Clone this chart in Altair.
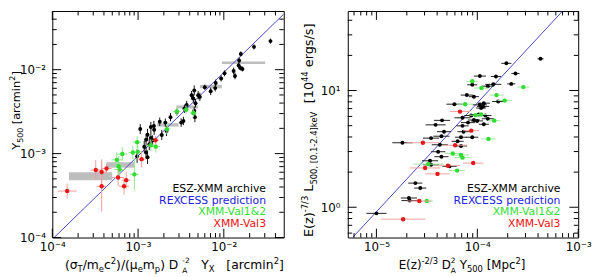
import altair as alt
import pandas as pd
import numpy as np

FONT = "DejaVu Sans"

# ---------------- Left panel data ----------------
LB_x = [0.0350, 0.0225, 0.0158, 0.0151, 0.0149, 0.0156, 0.0165, 0.0130, 0.0135, 0.0102,
        0.00931, 0.00804, 0.00794, 0.00703, 0.00600, 0.00502, 0.00452, 0.00441, 0.00468, 0.00421,
        0.00369, 0.00452, 0.00460, 0.00338, 0.00318, 0.00283, 0.00239, 0.00208, 0.00179, 0.00153,
        0.00106, 0.00141, 0.00154, 0.00129, 0.00141, 0.00124, 0.00148, 0.00135, 0.00118, 0.00124,
        0.00129, 0.000975, 0.00189, 0.00215, 0.00526, 0.00347]
LB_y = [0.0219, 0.0187, 0.0154, 0.0129, 0.0112, 0.0105, 0.0102, 0.00964, 0.00843, 0.00906,
        0.00785, 0.00695, 0.00603, 0.00552, 0.00618, 0.00497, 0.00566, 0.00454, 0.00398, 0.00497,
        0.00380, 0.00324, 0.00272, 0.00245, 0.00234, 0.00313, 0.00272, 0.00234, 0.00240, 0.00214,
        0.00196, 0.00208, 0.00192, 0.00168, 0.00154, 0.00146, 0.00144, 0.00129, 0.00121, 0.00103,
        0.000906, 0.000931, 0.00167, 0.00186, 0.00474, 0.00342]
LB_ey = [0.03, 0.03, 0.03, 0.035, 0.035, 0.03, 0.03, 0.04, 0.04, 0.035,
         0.035, 0.04, 0.04, 0.045, 0.03, 0.05, 0.06, 0.05, 0.05, 0.05,
         0.05, 0.05, 0.06, 0.05, 0.05, 0.04, 0.05, 0.05, 0.05, 0.06,
         0.06, 0.06, 0.06, 0.07, 0.07, 0.07, 0.06, 0.07, 0.07, 0.07,
         0.08, 0.08, 0.06, 0.06, 0.05, 0.05]
LB_ex = [0.012] * len(LB_x)

LG_x = [5.64e-4, 5.94e-4, 6.55e-4, 8.69e-4, 9.93e-4, 9.76e-4, 9.06e-4, 1.41e-3, 1.61e-3,
        2.17e-3, 2.83e-3, 3.63e-3, 4.41e-3, 6.10e-4]
LG_y = [8.43e-4, 7.08e-4, 9.88e-4, 1.03e-3, 1.05e-3, 1.37e-3, 5.66e-4, 1.26e-3, 1.21e-3,
        1.96e-3, 3.18e-3, 3.33e-3, 3.05e-3, 6.47e-4]
LG_ex = [0.06, 0.06, 0.06, 0.05, 0.05, 0.05, 0.05, 0.05, 0.05, 0.04, 0.04, 0.04, 0.04, 0.06]
LG_ey = [0.09, 0.12, 0.08, 0.08, 0.08, 0.07, 0.18, 0.07, 0.07, 0.06, 0.05, 0.05, 0.05, 0.09]

LR_x = [1.49e-4, 3.21e-4, 3.76e-4, 4.29e-4, 3.76e-4, 5.85e-4, 7.28e-4, 6.86e-4, 1.10e-3, 1.60e-3]
LR_y = [3.58e-4, 6.37e-4, 6.04e-4, 6.64e-4, 4.08e-4, 5.19e-4, 4.83e-4, 4.08e-4, 8.59e-4, 1.44e-3]
LR_ex = [0.11, 0.06, 0.06, 0.06, 0.06, 0.07, 0.05, 0.06, 0.05, 0.04]
LR_ey = [0.09, 0.12, 0.15, 0.06, 0.30, 0.10, 0.10, 0.10, 0.10, 0.05]

# binned values (grey boxes)
LGR_xlo = [1.56e-4, 4.29e-4, 1.67e-3, 2.8e-3, 5.26e-3, 9.5e-3]
LGR_xhi = [5.0e-4, 9.06e-4, 2.96e-3, 5.0e-3, 9.5e-3, 3.04e-2]
LGR_ylo = [4.8e-4, 6.8e-4, 2.1e-3, 3.45e-3, 6.0e-3, 1.17e-2]
LGR_yhi = [6.0e-4, 7.9e-4, 2.3e-3, 3.75e-3, 6.6e-3, 1.25e-2]

# REXCESS prediction
L_line_x = [1.05e-4, 0.05]
L_line_y = [1.0e-4, 0.046]

# ---------------- Right panel data ----------------
RB_x = [4.23e-4, 1.94e-4, 2.39e-4, 1.06e-4, 1.53e-4, 2.17e-4, 1.44e-4, 8.91e-5, 1.27e-4, 7.87e-5,
        9.25e-5, 1.61e-4, 5.93e-5, 1.06e-4, 1.14e-4, 1.16e-4, 1.09e-4, 8.71e-5, 1.03e-4, 1.20e-4,
        7.13e-5, 9.25e-5, 9.95e-5, 1.27e-4, 8.09e-5, 4.47e-5, 1.16e-4, 3.86e-5, 7.13e-5, 4.68e-5,
        7.30e-5, 8.91e-5, 4.41e-5, 1.81e-5, 3.48e-5, 4.25e-5, 4.09e-5, 4.41e-5, 3.40e-5, 3.48e-5,
        6.89e-5, 6.38e-5, 6.89e-5, 5.31e-5, 2.43e-5, 2.72e-5, 2.10e-5, 2.13e-5, 1.00e-5]
RB_y = [18.7, 17.1, 14.0, 13.3, 13.2, 11.4, 11.3, 11.2, 10.9, 9.14,
        8.86, 8.05, 7.64, 7.54, 7.31, 7.79, 7.08, 6.11, 6.23, 6.11,
        5.84, 5.59, 5.49, 5.73, 5.31, 5.55, 5.14, 5.08, 4.98, 4.44,
        4.44, 3.98, 4.06, 3.57, 3.91, 3.43, 2.99, 2.71, 2.50, 2.31,
        3.35, 3.67, 3.98, 2.24, 1.61, 1.46, 1.20, 1.14, 0.886]
RB_ex = [0.03, 0.05, 0.04, 0.06, 0.05, 0.04, 0.08, 0.05, 0.06, 0.06,
         0.05, 0.06, 0.08, 0.07, 0.06, 0.06, 0.05, 0.07, 0.06, 0.06,
         0.08, 0.06, 0.06, 0.06, 0.07, 0.08, 0.05, 0.10, 0.06, 0.07,
         0.06, 0.06, 0.08, 0.10, 0.08, 0.08, 0.07, 0.07, 0.08, 0.08,
         0.06, 0.06, 0.06, 0.07, 0.07, 0.06, 0.08, 0.08, 0.10]
RB_ey = [0.01] * len(RB_x)

RG_x = [8.91e-5, 1.10e-4, 2.86e-4, 1.55e-4, 1.87e-4, 7.57e-5, 9.62e-5, 1.09e-4, 1.47e-4,
        1.29e-4, 5.71e-5, 6.89e-5, 7.13e-5, 3.27e-5, 6.30e-5, 3.16e-5]
RG_y = [12.0, 10.5, 10.7, 9.14, 8.20, 7.64, 6.15, 6.23, 5.52,
        3.85, 2.89, 2.80, 2.66, 2.34, 2.06, 1.13]
RG_ex = [0.06, 0.07, 0.06, 0.07, 0.07, 0.08, 0.06, 0.06, 0.06,
         0.07, 0.08, 0.08, 0.08, 0.15, 0.08, 0.06]
RG_ey = [0.01] * len(RG_x)

RR_x = [6.73e-5, 8.71e-5, 2.89e-5, 6.03e-5, 5.11e-5, 3.04e-5, 4.03e-5, 9.10e-5, 2.66e-5, 1.84e-5]
RR_y = [6.60, 4.53, 3.57, 3.40, 2.27, 2.17, 1.93, 2.39, 1.13, 0.79]
RR_ex = [0.10, 0.08, 0.16, 0.12, 0.12, 0.15, 0.12, 0.10, 0.12, 0.22]
RR_ey = [0.01] * len(RR_x)

R_line_x = [5.8e-6, 7.0e-4]
R_line_y = [0.55, 48.0]

# ticks
L_major = [1e-4, 1e-3, 1e-2]
L_minor = [2e-4, 3e-4, 4e-4, 5e-4, 6e-4, 7e-4, 8e-4, 9e-4,
           2e-3, 3e-3, 4e-3, 5e-3, 6e-3, 7e-3, 8e-3, 9e-3,
           2e-2, 3e-2, 4e-2]
RX_major = [1e-5, 1e-4, 1e-3]
RX_minor = [6e-6, 7e-6, 8e-6, 9e-6,
            2e-5, 3e-5, 4e-5, 5e-5, 6e-5, 7e-5, 8e-5, 9e-5,
            2e-4, 3e-4, 4e-4, 5e-4, 6e-4, 7e-4, 8e-4, 9e-4]
RY_major = [1.0, 10.0]
RY_minor = [0.6, 0.7, 0.8, 0.9, 2, 3, 4, 5, 6, 7, 8, 9, 20, 30, 40]

LEG_TEXT = ["ESZ-XMM archive", "REXCESS prediction", "XMM-Val1&2", "XMM-Val3"]
LEG_COL = ["black", "#2222dd", "#33e033", "#ee1111"]

LW, LH = 235, 230
RW, RH = 234, 230
BLUE = "#4646cc"
GREEN = "#30dd30"
RED = "#e81818"

CW = {' ': .318, '(': .390, ')': .390, '/': .337, '[': .390, ']': .390, '-': .361,
      '.': .318, ',': .318, '&': .780, 'a': .613, 'c': .550, 'e': .615, 'g': .635,
      'h': .634, 'i': .278, 'k': .579, 'm': .974, 'n': .634, 'p': .635, 'r': .411,
      's': .521, 'v': .592, 'x': .592, 'z': .525, 'A': .684, 'D': .770, 'E': .632,
      'L': .557, 'M': .863, 'T': .611, 'V': .684, 'X': .685, 'Y': .611, 'σ': .634,
      'μ': .636}
for d in "0123456789":
    CW[d] = .636


def tw(s, fs):
    return sum(CW.get(c, 0.6) for c in s) * fs


def one():
    return alt.Data(values=[{}])


def rich(segs, cx, cy, F=12, f=8.5, vertical=False, sub_off=3.5, sup_off=-5.0):
    widths = []
    for s in segs:
        if s[0] == 'n':
            widths.append(tw(s[1], F))
        elif s[0] in ('sub', 'sup'):
            widths.append(tw(s[1], f))
        else:
            widths.append(max(tw(s[1], 7.5), tw(s[2], 7.5)))
    total = sum(widths)
    pos = -total / 2.0
    layers = []
    for s, w in zip(segs, widths):
        if s[0] == 'n':
            pieces = [(s[1], F, 0.0)]
        elif s[0] == 'sub':
            pieces = [(s[1], f, sub_off)]
        elif s[0] == 'sup':
            pieces = [(s[1], f, sup_off)]
        else:
            # stacked superscript over subscript, kept apart
            pieces = [(s[1], 7.5, -6.0), (s[2], 7.5, 4.0)]
        for t, size, off in pieces:
            lead = len(t) - len(t.lstrip(' '))
            shift = tw(' ' * lead, size)
            t = t.strip(' ')
            if vertical:
                xx, yy, ang = cx + off, cy - (pos + shift), 270
            else:
                xx, yy, ang = cx + pos + shift, cy + off, 0
            layers.append(
                alt.Chart(one()).mark_text(text=t, fontSize=size, font=FONT, align='left',
                                           baseline='alphabetic', angle=ang, color='black')
                .encode(x=alt.value(xx), y=alt.value(yy)))
        pos += w
    return layers


def mkdf(xs, ys, exs, eys):
    x = np.array(xs, float)
    y = np.array(ys, float)
    ex = np.array(exs, float)
    ey = np.array(eys, float)
    return pd.DataFrame({'x': x, 'y': y, 'xlo': x * 10 ** (-ex), 'xhi': x * 10 ** ex,
                         'ylo': y * 10 ** (-ey), 'yhi': y * 10 ** ey})


def panel(W, H, XS, YS, AX, AY, groups, boxes, line, xmaj, xmin, ymaj, ymin, legx, titles):
    X = lambda f: alt.X(f, type='quantitative', scale=XS, axis=AX)
    Y = lambda f: alt.Y(f, type='quantitative', scale=YS, axis=AY)
    layers = []
    if boxes is not None:
        layers.append(alt.Chart(boxes).mark_rect(color='#bebebe').encode(
            x=X('xlo'), x2='xhi', y=Y('ylo'), y2='yhi'))
    layers.append(alt.Chart(line).mark_line(color=BLUE, strokeWidth=1, clip=True).encode(
        x=X('x'), y=Y('y')))
    for df, col, barcol, size, vbars in groups:
        layers.append(alt.Chart(df).mark_rule(color=barcol, strokeWidth=1, clip=True).encode(
            x=X('xlo'), x2='xhi', y=Y('y')))
        if vbars:
            layers.append(alt.Chart(df).mark_rule(color=barcol, strokeWidth=1, clip=True).encode(
                x=X('x'), y=Y('ylo'), y2='yhi'))
        layers.append(alt.Chart(df).mark_circle(color=col, size=size, opacity=1).encode(
            x=X('x'), y=Y('y')))
    # inward ticks on all four sides
    for vals, ln in ((xmaj, 9), (xmin, 4.5)):
        d = pd.DataFrame({'v': vals})
        layers.append(alt.Chart(d).mark_rule(color='black', strokeWidth=1).encode(
            x=X('v'), y=alt.value(H), y2=alt.value(H - ln)))
        layers.append(alt.Chart(d).mark_rule(color='black', strokeWidth=1).encode(
            x=X('v'), y=alt.value(0), y2=alt.value(ln)))
    for vals, ln in ((ymaj, 9), (ymin, 4.5)):
        d = pd.DataFrame({'v': vals})
        layers.append(alt.Chart(d).mark_rule(color='black', strokeWidth=1).encode(
            y=Y('v'), x=alt.value(0), x2=alt.value(ln)))
        layers.append(alt.Chart(d).mark_rule(color='black', strokeWidth=1).encode(
            y=Y('v'), x=alt.value(W), x2=alt.value(W - ln)))
    # legend texts
    for i, (t, c) in enumerate(zip(LEG_TEXT, LEG_COL)):
        layers.append(alt.Chart(one()).mark_text(text=t, fontSize=11, font=FONT, align='right',
                                                 baseline='alphabetic', color=c)
                      .encode(x=alt.value(legx), y=alt.value(184 + 11.7 * i)))
    layers.extend(titles)
    return alt.layer(*layers).properties(width=W, height=H)


def axis(values, expr, pad):
    return alt.Axis(values=values, labelExpr=expr, ticks=False, domain=False, grid=False,
                    title=None, labelPadding=pad, labelFlush=False, labelOverlap=False,
                    labelFont=FONT, labelFontSize=12, labelColor='black')


L_expr = "datum.value < 0.0005 ? '10⁻⁴' : (datum.value < 0.005 ? '10⁻³' : '10⁻²')"
RX_expr = "datum.value < 0.00005 ? '10⁻⁵' : (datum.value < 0.0005 ? '10⁻⁴' : '10⁻³')"
RY_expr = "datum.value < 5 ? '10⁰' : '10¹'"

XSL = alt.Scale(type='log', domain=[1e-4, 0.05], nice=False)
YSL = alt.Scale(type='log', domain=[1e-4, 0.05], nice=False)
XSR = alt.Scale(type='log', domain=[5.2e-6, 1e-3], nice=False)
YSR = alt.Scale(type='log', domain=[0.55, 48], nice=False)

left_groups = [
    (mkdf(LB_x, LB_y, LB_ex, LB_ey), 'black', '#111111', 16, True),
    (mkdf(LG_x, LG_y, LG_ex, LG_ey), GREEN, '#8fe88f', 20, True),
    (mkdf(LR_x, LR_y, LR_ex, LR_ey), RED, '#f29a9a', 20, True),
]
right_groups = [
    (mkdf(RB_x, RB_y, RB_ex, RB_ey), 'black', '#222222', 16, False),
    (mkdf(RG_x, RG_y, RG_ex, RG_ey), GREEN, '#9dea9d', 20, False),
    (mkdf(RR_x, RR_y, RR_ex, RR_ey), RED, '#f2a0a0', 20, False),
]
boxes = pd.DataFrame({'xlo': LGR_xlo, 'xhi': LGR_xhi, 'ylo': LGR_ylo, 'yhi': LGR_yhi})

L_xtitle = rich([('n', '(σ'), ('sub', 'T'), ('n', '/m'), ('sub', 'e'), ('n', 'c'), ('sup', '2'),
                 ('n', ')/(μ'), ('sub', 'e'), ('n', 'm'), ('sub', 'p'), ('n', ')  D'),
                 ('ss', '-2', 'A'), ('n', '   Y'), ('sub', 'X'), ('n', '   [arcmin'),
                 ('sup', '2'), ('n', ']')], cx=124, cy=262, F=12.5)
L_ytitle = rich([('n', 'Y'), ('sub', '500'), ('n', ' [arcmin'), ('sup', '2'), ('n', ']')],
                cx=-33, cy=101, F=11.5, f=8, vertical=True)
R_xtitle = rich([('n', 'E(z)'), ('sup', '-2/3'), ('n', ' D'), ('ss', '2', 'A'), ('n', ' Y'),
                 ('sub', '500'), ('n', ' [Mpc'), ('sup', '2'), ('n', ']')], cx=116, cy=262)
R_ytitle = rich([('n', 'E(z)'), ('sup', '-7/3'), ('n', ' L'), ('sub', '500, [0.1-2.4]keV'),
                 ('n', '  [10'), ('sup', '44'), ('n', ' ergs/s]')],
                cx=-35, cy=121, F=13, vertical=True)

left = panel(LW, LH, XSL, YSL, axis(L_major, L_expr, 4), axis(L_major, L_expr, 7),
             left_groups, boxes, pd.DataFrame({'x': L_line_x, 'y': L_line_y}),
             L_major, L_minor, L_major, L_minor, 217, L_xtitle + L_ytitle)
right = panel(RW, RH, XSR, YSR, axis(RX_major, RX_expr, 4), axis(RY_major, RY_expr, 8),
              right_groups, None, pd.DataFrame({'x': R_line_x, 'y': R_line_y}),
              RX_major, RX_minor, RY_major, RY_minor, 216, R_xtitle + R_ytitle)

chart = alt.hconcat(left, right, spacing=65, bounds='flush').properties(
    padding=0, background='white'
).configure_view(stroke='black', strokeWidth=1)

chart.save("out.html", embed_options={"renderer": "svg", "actions": False})
